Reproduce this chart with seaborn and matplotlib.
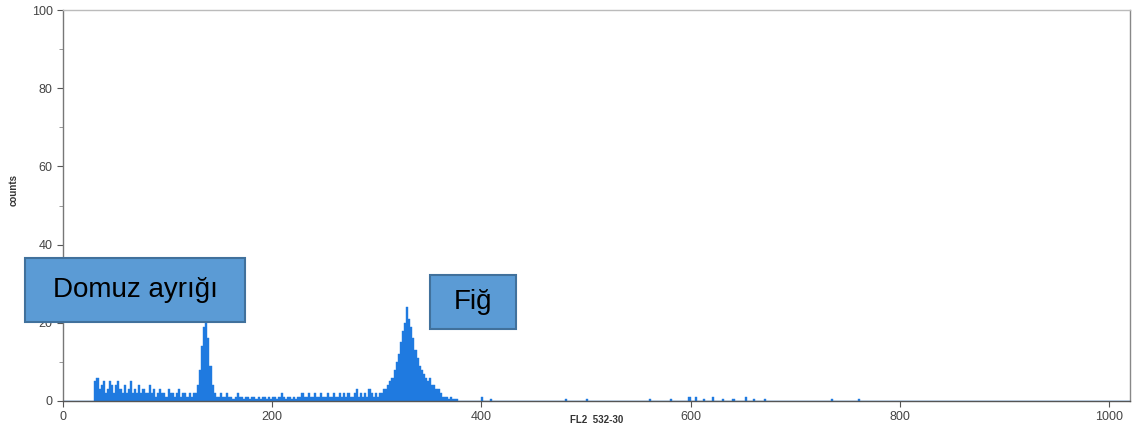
import numpy as np
import pandas as pd
import seaborn as sns
import matplotlib.pyplot as plt
from matplotlib.patches import Rectangle

# Channel counts, 2-channel bins from channel 30 to ~375
start_channel = 30
bin_width = 2
counts_main = [
    # 30 - 124 : left noise shoulder
    5, 6, 3, 4, 5, 2, 3, 5, 4, 2, 4, 5, 3, 2, 4, 2, 3, 5, 2, 3,
    2, 4, 2, 3, 2, 2, 4, 2, 3, 1, 2, 3, 2, 2, 1, 3, 2, 2, 1, 2,
    3, 1, 2, 2, 1, 2, 1, 2,
    # 126 - 148 : first peak (Domuz ayrigi)
    2, 4, 8, 14, 19, 22, 16, 9, 4, 2, 1, 1,
    # 150 - 302 : valley
    2, 1, 1, 2, 1, 1, 0.5, 1, 2, 1, 1, 0.5, 1, 1, 0.5, 1, 1, 0.5, 1, 0.5,
    1, 1, 0.5, 1, 0.5, 1, 1, 0.5, 1, 2, 1, 0.5, 1, 1, 0.5, 1, 0.5, 1, 1, 2,
    1, 1, 2, 1, 1, 2, 1, 1, 2, 1, 1, 2, 1, 1, 2, 1, 1, 2, 1, 2,
    1, 2, 1, 1, 2, 3, 1, 2, 1, 2, 1, 3, 2, 1, 2, 1, 2,
    # 304 - 376 : second peak (Fig)
    2, 3, 3, 4, 5, 6, 8, 10, 12, 15, 18, 20, 24, 21, 19, 16, 13, 11, 9, 8,
    7, 6, 5, 6, 4, 4, 3, 3, 2, 1, 1, 1, 0.5, 1, 0.5, 0.5, 0.5,
]

# sparse events further right
sparse_channels = [400, 408, 480, 500, 560, 580, 598, 604, 612, 620, 630, 640, 652, 660, 670, 735, 760]
sparse_counts = [1, 0.5, 0.5, 0.5, 0.5, 0.5, 1, 1, 0.5, 1, 0.5, 0.5, 1, 0.5, 0.5, 0.5, 0.5]

main_channels = [start_channel + i * bin_width for i in range(len(counts_main))]
df = pd.DataFrame({
    "channel": main_channels + sparse_channels,
    "count": counts_main + sparse_counts,
})

sns.set_style("white")
plt.rcParams["font.family"] = ["Liberation Sans", "DejaVu Sans"]

fig = plt.figure(figsize=(11.35, 4.29), dpi=100)
ax = fig.add_axes([0.0555, 0.0653, 0.940, 0.911])

sns.histplot(data=df, x="channel", weights="count", binwidth=bin_width,
             binrange=(0, 1024), color="#1f7ae0", alpha=1, element="bars",
             edgecolor="#1f7ae0", linewidth=0.3, ax=ax)

ax.set_xlim(0, 1020)
ax.set_ylim(0, 100)
ax.set_xticks([0, 200, 400, 600, 800, 1000])
ax.set_yticks([0, 20, 40, 60, 80, 100])
ax.set_yticks([10, 30, 50, 70, 90], minor=True)
ax.tick_params(axis="both", which="major", labelsize=9, colors="#555555",
               length=4, width=0.8, direction="out")
ax.tick_params(axis="y", which="minor", length=3, width=0.6, color="#888888", left=True)
ax.tick_params(axis="x", bottom=True)
ax.tick_params(axis="y", left=True)
for lbl in ax.get_xticklabels() + ax.get_yticklabels():
    lbl.set_color("#444444")

ax.set_xlabel("FL2  532-30", fontsize=7, fontweight="bold", color="#333333")
ax.set_ylabel("counts", fontsize=7, fontweight="bold", color="#333333")
ax.xaxis.set_label_coords(0.50, -0.036)
ax.yaxis.set_label_coords(-0.042, 0.54)

ax.spines["left"].set_color("#777777")
ax.spines["bottom"].set_color("#555555")
ax.spines["top"].set_color("#bbbbbb")
ax.spines["right"].set_color("#888888")
for s in ax.spines.values():
    s.set_linewidth(1.0)

# annotation boxes
boxes = [
    ("Domuz ayrığı", 25, 258, 220, 64),
    ("Fiğ", 430, 275, 86, 54),
]
W, H = 1135, 429
for text, x, y, w, h in boxes:
    fx, fy = x / W, 1 - (y + h) / H
    fw, fh = w / W, h / H
    fig.patches.append(Rectangle((fx, fy), fw, fh, transform=fig.transFigure,
                                 facecolor="#5b9bd5", edgecolor="#41719c",
                                 linewidth=1.5, zorder=5))
    fig.text(fx + fw / 2, fy + fh / 2, text, ha="center", va="center",
             fontsize=20, color="black", zorder=6)

fig.savefig("out.png", dpi=100)
